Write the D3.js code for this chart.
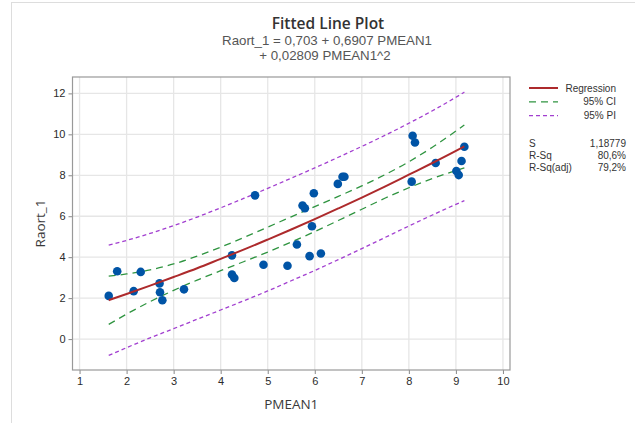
<!DOCTYPE html>
<html>
<head>
<meta charset="utf-8">
<script src="https://cdn.jsdelivr.net/npm/d3@7"></script>
<style>
  body { margin: 0; background: #fff; }
  svg { font-family: "Open Sans", "Noto Sans", sans-serif; }
  .tick text { font-size: 11px; fill: #2b2b2b; }
  .grid line { stroke: #e6e6e6; stroke-width: 1.3; }
  .small { font-family: "Liberation Sans", Arial, sans-serif; }
</style>
</head>
<body>
<div id="chart"></div>
<script>

// observed points
var pmean = [1.62, 1.80, 2.15, 2.30, 2.70, 2.71, 2.76, 3.22, 4.24, 4.24, 4.29, 4.73, 4.91, 5.42, 5.62, 5.74,
             5.79, 5.89, 5.94, 5.98, 6.13, 6.49, 6.59, 6.63, 8.06, 8.08, 8.13, 8.57, 9.01, 9.06, 9.12, 9.18];
var raort = [2.11, 3.31, 2.34, 3.28, 2.72, 2.29, 1.90, 2.43, 4.09, 3.15, 2.98, 7.02, 3.63, 3.58, 4.62, 6.52,
             6.39, 4.05, 5.51, 7.12, 4.18, 7.58, 7.93, 7.93, 7.69, 9.93, 9.60, 8.60, 8.21, 8.01, 8.70, 9.39];

// fitted curve and bands, read at these x positions
var curveX = [1.62, 2, 2.5, 3, 3.5, 4, 4.5, 5, 5.5, 6, 6.5, 7, 7.5, 8, 8.5, 9, 9.18];
var fitY   = [1.90, 2.20, 2.61, 3.03, 3.46, 3.92, 4.38, 4.86, 5.35, 5.86, 6.38, 6.91, 7.46, 8.03, 8.60, 9.19, 9.41];
var ciLow  = [0.72, 1.22, 1.83, 2.38, 2.88, 3.34, 3.79, 4.25, 4.74, 5.25, 5.79, 6.34, 6.89, 7.39, 7.84, 8.23, 8.36];
var ciHigh = [3.07, 3.18, 3.38, 3.67, 4.05, 4.49, 4.97, 5.47, 5.97, 6.47, 6.97, 7.48, 8.04, 8.66, 9.37, 10.16, 10.46];
var piLow  = [-0.80, -0.42, 0.06, 0.51, 0.97, 1.42, 1.88, 2.35, 2.85, 3.35, 3.88, 4.42, 4.97, 5.52, 6.06, 6.58, 6.76];
var piHigh = [4.59, 4.82, 5.16, 5.54, 5.96, 6.41, 6.88, 7.36, 7.86, 8.36, 8.88, 9.41, 9.96, 10.54, 11.15, 11.81, 12.06];

var xTicks = [1, 2, 3, 4, 5, 6, 7, 8, 9, 10];
var yTicks = [0, 2, 4, 6, 8, 10, 12];

var legendNames = ["Regression", "95% CI", "95% PI"];
var statNames = ["S", "R-Sq", "R-Sq(adj)"];
var statValues = ["1,18779", "80,6%", "79,2%"];

var regColor = '#ad2a2c';
var ciColor = '#2f9440';
var piColor = '#a23fd0';
var dotColor = '#0054a6';

var width = 635, height = 423;
var margin = {left: 72.5, top: 77, right: 125, bottom: 53};
var plotW = width - margin.left - margin.right;
var plotH = height - margin.top - margin.bottom;

var svg = d3.select("#chart").append("svg")
  .attr("width", width)
  .attr("height", height);

// outer panel border
svg.append("rect")
  .attr("x", 11.5).attr("y", 2.5)
  .attr("width", width).attr("height", height)
  .attr("fill", "none")
  .attr("stroke", "#dddddd");

svg.append("text")
  .attr("x", 328).attr("y", 28.8)
  .attr("text-anchor", "middle")
  .style("font-size", "15.5px").style("font-weight", 600).style("fill", "#333")
  .text("Fitted Line Plot");

svg.append("text")
  .attr("class", "small")
  .attr("x", 327).attr("y", 45.2)
  .attr("text-anchor", "middle")
  .style("font-size", "13.3px").style("fill", "#555")
  .text("Raort_1 = 0,703 + 0,6907 PMEAN1");

svg.append("text")
  .attr("class", "small")
  .attr("x", 325).attr("y", 60.1)
  .attr("text-anchor", "middle")
  .style("font-size", "13.3px").style("fill", "#555")
  .text("+ 0,02809 PMEAN1^2");

var chart = svg.append("g")
  .attr("transform", "translate(" + margin.left + "," + margin.top + ")");

var xScale = d3.scaleLinear().domain([0.85, 10.15]).range([0, plotW]);
var yScale = d3.scaleLinear().domain([-1.51, 12.8]).range([plotH, 0]);

// gridlines
chart.append("g").attr("class", "grid")
  .selectAll("line").data(xTicks).enter().append("line")
  .attr("x1", function(d) { return xScale(d); }).attr("x2", function(d) { return xScale(d); })
  .attr("y1", 0).attr("y2", plotH);

chart.append("g").attr("class", "grid")
  .selectAll("line").data(yTicks).enter().append("line")
  .attr("y1", function(d) { return yScale(d); }).attr("y2", function(d) { return yScale(d); })
  .attr("x1", 0).attr("x2", plotW);

var xAxis = d3.axisBottom(xScale).tickValues(xTicks).tickSize(4).tickPadding(3);
var yAxis = d3.axisLeft(yScale).tickValues(yTicks).tickSize(4).tickPadding(3);

var gx = chart.append("g")
  .attr("transform", "translate(0," + plotH + ")")
  .call(xAxis);
var gy = chart.append("g").call(yAxis);

[gx, gy].forEach(function(g) {
  g.select(".domain").remove();
  g.selectAll(".tick line").attr("stroke", "#888");
});

chart.append("rect")
  .attr("width", plotW).attr("height", plotH)
  .attr("fill", "none")
  .attr("stroke", "#999").attr("stroke-width", 1.2);

function bandLine(vals) {
  return d3.line()
    .x(function(d, i) { return xScale(curveX[i]); })
    .y(function(d) { return yScale(d); })
    .curve(d3.curveMonotoneX)(vals);
}

[piLow, piHigh].forEach(function(vals) {
  chart.append("path")
    .attr("d", bandLine(vals))
    .attr("fill", "none")
    .attr("stroke", piColor).attr("stroke-width", 1.3)
    .attr("stroke-dasharray", "4,3");
});

[ciLow, ciHigh].forEach(function(vals) {
  chart.append("path")
    .attr("d", bandLine(vals))
    .attr("fill", "none")
    .attr("stroke", ciColor).attr("stroke-width", 1.3)
    .attr("stroke-dasharray", "7,5");
});

chart.selectAll(".dot")
  .data(pmean)
  .enter().append("circle")
  .attr("class", "dot")
  .attr("cx", function(d) { return xScale(d); })
  .attr("cy", function(d, i) { return yScale(raort[i]); })
  .attr("r", 4.3)
  .attr("fill", dotColor);

chart.append("path")
  .attr("d", bandLine(fitY))
  .attr("fill", "none")
  .attr("stroke", regColor).attr("stroke-width", 2);

// axis titles
svg.append("text")
  .attr("x", margin.left + plotW / 2).attr("y", 409)
  .attr("text-anchor", "middle")
  .style("font-size", "13.5px").style("fill", "#3a3a3a")
  .text("PMEAN1");

svg.append("text")
  .attr("transform", "translate(45," + (margin.top + plotH / 2) + ") rotate(-90)")
  .attr("text-anchor", "middle")
  .style("font-size", "13.5px").style("fill", "#3a3a3a")
  .text("Raort_1");

// legend
var legend = svg.append("g").attr("class", "small");
var legendDash = [null, "7,5", "4,3"];
var legendColor = [regColor, ciColor, piColor];
legendNames.forEach(function(name, i) {
  var y = 88 + i * 13.8;
  legend.append("line")
    .attr("x1", 529).attr("x2", 558)
    .attr("y1", y).attr("y2", y)
    .attr("stroke", legendColor[i])
    .attr("stroke-width", i == 0 ? 2 : 1.3)
    .attr("stroke-dasharray", legendDash[i]);
  legend.append("text")
    .attr("x", 616).attr("y", y + 3.6)
    .attr("text-anchor", "end")
    .style("font-size", "10px").style("fill", "#333")
    .text(name);
});

statNames.forEach(function(name, i) {
  var y = 146.5 + i * 12.2;
  legend.append("text")
    .attr("x", 529).attr("y", y)
    .style("font-size", "10px").style("fill", "#333")
    .text(name);
  legend.append("text")
    .attr("x", 626).attr("y", y)
    .attr("text-anchor", "end")
    .style("font-size", "10px").style("fill", "#333")
    .text(statValues[i]);
});

</script>
</body>
</html>
